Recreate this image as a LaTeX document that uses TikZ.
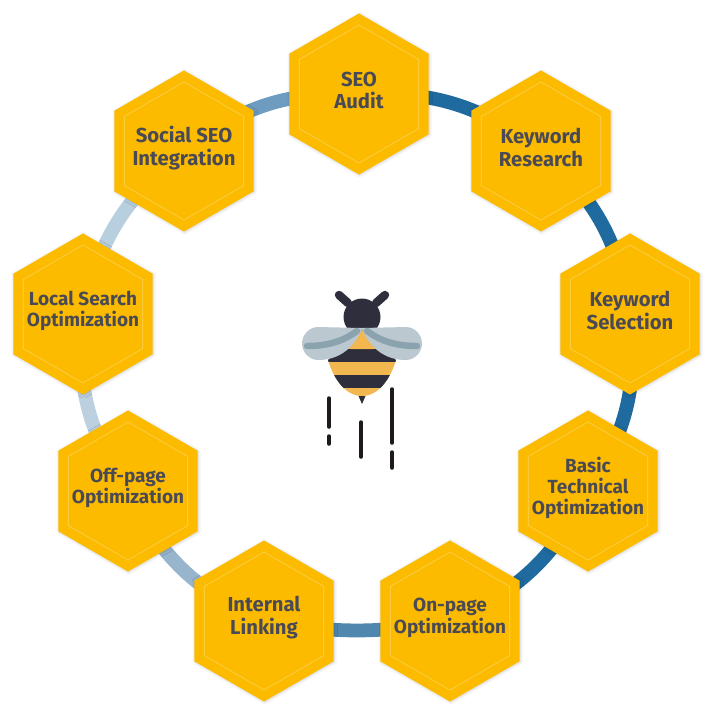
\documentclass[tikz,border=0pt]{standalone}
\usepackage{fontspec}
\setmainfont{Fira Sans}
\usetikzlibrary{shapes.geometric,backgrounds,shadows.blur}
\definecolor{honey}{HTML}{FDBB00}
\definecolor{honeyline}{HTML}{F9D35C}
\definecolor{labelgray}{HTML}{4A4A55}
\definecolor{beedark}{HTML}{2E2E3C}
\definecolor{beeyellow}{HTML}{F2B84F}
\definecolor{wing}{HTML}{BCC8D0}
\definecolor{vein}{HTML}{8AA3AE}
\definecolor{trail}{HTML}{1F1A1A}
\tikzset{
  hexa/.style={regular polygon, regular polygon sides=6, regular polygon rotate=30,
    minimum size=4.025cm, inner sep=0pt, fill=honey,
    blur shadow={shadow blur steps=6, shadow xshift=0.5pt, shadow yshift=-0.5pt, shadow opacity=18}},
  innerhex/.style={regular polygon, regular polygon sides=6, regular polygon rotate=30,
    minimum size=3.45cm, inner sep=0pt, draw=honeyline, line width=0.4pt},
  hextext/.style={text=labelgray, align=center, inner sep=0pt, yshift=2.2pt},
  big/.style={hextext, font=\fontsize{14.4}{16.3}\selectfont\bfseries},
  mid/.style={hextext, font=\fontsize{14.4}{15.6}\selectfont\bfseries},
  small/.style={hextext, font=\fontsize{13.5}{15.2}\selectfont\bfseries},
  ring/.style={line width=9.8pt}
}
\begin{document}
\begin{tikzpicture}[x=0.025cm, y=-0.025cm]
  \path (0, 0) rectangle (717, 719);
  \foreach \n/\p in {audit/{359, 94}, research/{541, 151}, selection/{630, 314}, basic/{588, 491},
      onpage/{450, 621}, internal/{264, 621}, offpage/{128, 491}, local/{83, 314}, social/{184, 151}} {
    \node[hexa] (\n) at (\p) {};
    \node[innerhex] (\n-in) at (\p) {};
  }
  \node[mid] (audit-text) at (audit) {SEO\\Audit};
  \node[big] (research-text) at (research) {Keyword\\Research};
  \node[big] (selection-text) at (selection) {Keyword\\Selection};
  \node[small] (basic-text) at (basic) {Basic\\Technical\\Optimization};
  \node[small] (onpage-text) at (onpage) {On-page\\Optimization};
  \node[big] (internal-text) at (internal) {Internal\\Linking};
  \node[small] (offpage-text) at (offpage) {Off-page\\Optimization};
  \node[small] (local-text) at (local) {Local Search\\Optimization};
  \node[big] (social-text) at (social) {Social SEO\\Integration};
  % ring goes behind the hexagons
  \begin{pgfonlayer}{background}
    \foreach \a/\b/\c/\k in {audit/research/1F6A9E/20, research/selection/1F6A9E/20, selection/basic/1F6A9E/20,
        basic/onpage/1F6A9E/20, onpage/internal/4F87AE/10, internal/offpage/97B5CD/20,
        offpage/local/BDD0E0/20, local/social/B8CFE0/20, social/audit/6D9CC0/20} {
      \definecolor{ringcol}{HTML}{\c}
      \draw[ring, draw=ringcol] (\a.center) to[bend left=\k] (\b.center);
    }
  \end{pgfonlayer}
  % bee
  \draw[beedark, line width=6pt, line cap=round] (339, 295) -- (348, 303);
  \draw[beedark, line width=6pt, line cap=round] (385, 295) -- (376, 303);
  \fill[beedark] (362, 317) circle (18.5);
  \begin{scope}
    \clip (328, 360) -- (362, 330) -- (396, 360) .. controls (390, 380) and (378, 396) .. (362, 396)
      .. controls (346, 396) and (334, 380) .. (328, 360) -- cycle;
    \fill[beeyellow] (320, 325) rectangle (404, 400);
    \fill[beedark] (320, 349) rectangle (404, 362);
    \fill[beedark] (320, 375) -- (404, 375) -- (404, 388) -- (320, 388) -- cycle;
  \end{scope}
  \fill[beeyellow] (362, 335) -- (351, 349) -- (373, 349) -- cycle;
  \fill[beedark] (358.5, 396) -- (365.5, 396) -- (362, 404) -- cycle;
  \foreach \s in {1, -1} {
    \begin{scope}[shift={(362, 0)}, xscale=\s]
      \fill[wing] (0, 328) -- (-44, 327) .. controls (-53, 327) and (-60, 335) .. (-60, 343.5)
        .. controls (-60, 352) and (-53, 360) .. (-44, 360)
        .. controls (-20, 360) and (-7, 345) .. (0, 329) -- cycle;
      \draw[vein, line width=4.6pt, line cap=round] (-55, 346) .. controls (-32, 346) and (-17, 340) .. (-5, 331);
    \end{scope}
  }
  % trails below the bee
  \foreach \x/\ya/\yb in {329/398/427, 329/436/444, 361/422/457, 392/389/443, 392/452/468} {
    \draw[trail, line width=2.5pt, line cap=round] (\x, \ya) -- (\x, \yb);
  }
\end{tikzpicture}
\end{document}
